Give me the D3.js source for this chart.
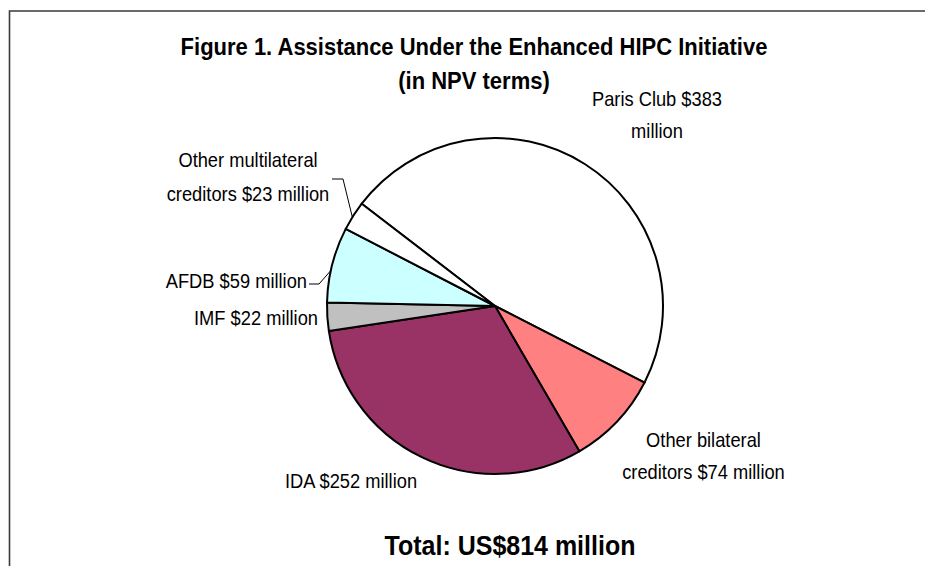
<!DOCTYPE html>
<html>
<head>
<meta charset="utf-8">
<script src="https://cdn.jsdelivr.net/npm/d3@7/dist/d3.min.js"></script>
<style>
  html, body { margin: 0; padding: 0; background: #ffffff; }
  svg { display: block; font-family: "Liberation Sans", Arial, sans-serif; }
</style>
</head>
<body>
<svg id="chart" width="925" height="566"></svg>
<script>
// ---- data ----
const categories = ["Paris Club", "Other bilateral creditors", "IDA", "IMF", "AFDB", "Other multilateral creditors"];
const values = [383, 74, 252, 22, 59, 23];
const sliceColors = ["#ffffff", "#ff8080", "#993366", "#c0c0c0", "#ccffff", "#ffffff"];
const labelLines = [
  ["Paris Club $383", "million"],
  ["Other bilateral", "creditors $74 million"],
  ["IDA $252 million"],
  ["IMF $22 million"],
  ["AFDB $59 million"],
  ["Other multilateral", "creditors $23 million"]
];
const titleLines = ["Figure 1. Assistance Under the Enhanced HIPC Initiative", "(in NPV terms)"];
const totalText = "Total: US$814 million";

// ---- layout ----
const svg = d3.select("#chart");
const cx = 495, cy = 306, R = 168;
const startDeg = -52.5;
const stretch = 1.1;

// frame
svg.append("path")
  .attr("d", "M9.5,570 L9.5,11 L930,11")
  .attr("fill", "none").attr("stroke", "#3a3a3a").attr("stroke-width", 1.6);

function stretchedText(x, y, txt, size, weight, anchor) {
  svg.append("g").attr("transform", `translate(${x},${y}) scale(1,${stretch})`)
    .append("text")
    .attr("text-anchor", anchor || "middle")
    .attr("font-size", size)
    .attr("font-weight", weight || "normal")
    .attr("fill", "#000")
    .text(txt);
}

// title
stretchedText(474, 55, titleLines[0], 22, "bold");
stretchedText(474, 89, titleLines[1], 22, "bold");

// pie
const pie = d3.pie().sort(null).value(d => d)
  .startAngle(startDeg * Math.PI / 180)
  .endAngle(startDeg * Math.PI / 180 + 2 * Math.PI);
const arcs = pie(values);
const arc = d3.arc().innerRadius(0).outerRadius(R);

const g = svg.append("g").attr("transform", `translate(${cx},${cy})`);
g.selectAll("path.slice").data(arcs).enter().append("path")
  .attr("class", "slice")
  .attr("d", arc)
  .attr("fill", (d, i) => sliceColors[i])
  .attr("stroke", "#000")
  .attr("stroke-width", 2)
  .attr("stroke-linejoin", "round");

// leader lines (anchored on slice edges)
const pt = (angleRad, r) => [cx + r * Math.sin(angleRad), cy - r * Math.cos(angleRad)];
const otherMulti = arcs[5];
const afdb = arcs[4];
const omEdge = pt(otherMulti.startAngle + (otherMulti.endAngle - otherMulti.startAngle) * 0.45, R);
const afEdge = pt(afdb.startAngle + (afdb.endAngle - afdb.startAngle) * 0.42, R);
const line = d3.line();
svg.append("path")
  .attr("d", line([[332, 179], [343, 179], omEdge]))
  .attr("fill", "none").attr("stroke", "#000").attr("stroke-width", 1);
svg.append("path")
  .attr("d", line([[309, 284], [319, 284], afEdge]))
  .attr("fill", "none").attr("stroke", "#000").attr("stroke-width", 1);

// labels
const labelPos = [
  {x: 657, y: [106, 138], a: "middle"},
  {x: 703.5, y: [447, 479], a: "middle"},
  {x: 351, y: [488], a: "middle"},
  {x: 318, y: [325], a: "end"},
  {x: 307, y: [288], a: "end"},
  {x: 248, y: [167, 200.5], a: "middle"}
];
labelLines.forEach((lines, i) => {
  lines.forEach((t, j) => stretchedText(labelPos[i].x, labelPos[i].y[j], t, 18.3, "normal", labelPos[i].a));
});

// total
stretchedText(510, 555, totalText, 25, "bold");
</script>
</body>
</html>
